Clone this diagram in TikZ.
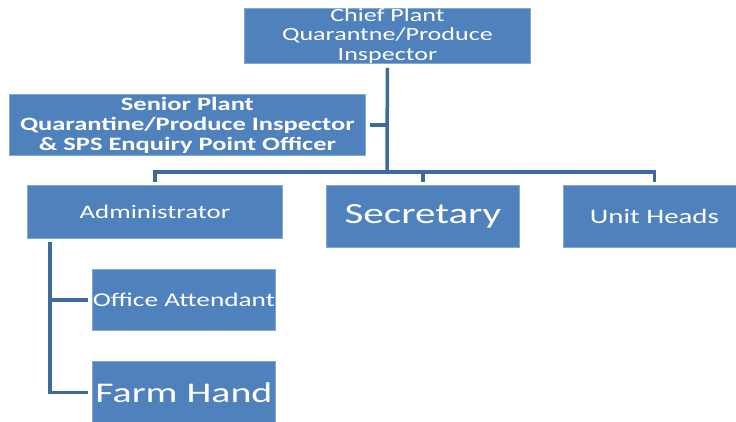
\documentclass[tikz,border=0pt]{standalone}
\usepackage{fontspec}
\setmainfont{Carlito}[FakeStretch=1.4]
\definecolor{boxblue}{HTML}{4F81BD}
\definecolor{boxedge}{HTML}{86A8D4}
\definecolor{linkblue}{HTML}{3F6A9E}
\begin{document}
\begin{tikzpicture}[x=1pt,y=-1pt,
  box/.style={draw=boxedge,line width=0.8pt,fill=boxblue,text=white,anchor=north west,
    inner sep=0pt,align=center,font=\fontsize{18.6}{19.5}\selectfont},
  link/.style={draw=linkblue,line width=3.5pt}]
\useasboundingbox (0,0) rectangle (736,421);
\node[box,minimum width=286pt,minimum height=55pt] (chief) at (244,8)
  {Chief Plant\\Quarantne/Produce\\Inspector};
\node[box,minimum width=356pt,minimum height=61pt,font=\bfseries\fontsize{18.9}{20}\selectfont] (senior) at (9,94)
  {Senior Plant\\Quarantine/Produce Inspector\\\& SPS Enquiry Point Officer};
\node[box,minimum width=255pt,minimum height=53pt,font=\fontsize{19.2}{20}\selectfont] (admin) at (27,185) {Administrator};
\node[box,minimum width=193pt,minimum height=62pt,font=\fontsize{29.3}{30}\selectfont] (secretary) at (326,185) {Secretary};
\node[box,minimum width=182pt,minimum height=62pt,font=\fontsize{20.6}{22}\selectfont] (unit) at (563,185) {Unit Heads};
\node[box,minimum width=183pt,minimum height=61pt,font=\fontsize{19.5}{20}\selectfont] (office) at (92,269) {Office Attendant};
\node[box,minimum width=183pt,minimum height=62pt,font=\fontsize{28.5}{30}\selectfont] (farm) at (92,361) {Farm Hand};
\coordinate (bus) at (387,172);
\coordinate (spine) at (50,242);
\draw[link] ([yshift=-4pt]chief.south) -- (bus);
\draw[link] ([xshift=4pt]senior.east) -- (senior.east -| bus);
\draw[link] ([yshift=3pt]admin.north) |- (bus) -| ([yshift=3pt]unit.north);
\draw[link] ([yshift=3pt]secretary.north) -- (secretary.north |- bus);
\draw[link] (spine) |- ([xshift=-4pt]farm.west);
\draw[link] (spine |- office.west) -- ([xshift=-4pt]office.west);
\end{tikzpicture}
\end{document}
